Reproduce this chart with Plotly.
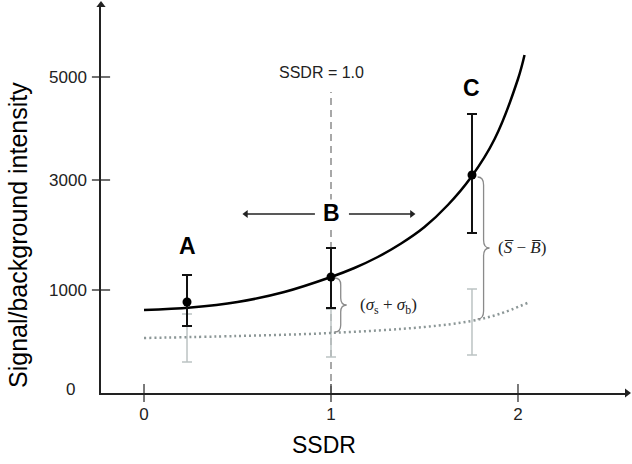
import plotly.graph_objects as go

# ---- data (x in SSDR units, y in the chart's drawn (schematic) intensity units) ----
x_tick_vals = [0, 1, 2]
x_tick_text = ["0", "1", "2"]
y_tick_vals = [103, 213, 316]
y_tick_text = ["1000", "3000", "5000"]
y_zero_label = "0"

signal_x = [0.0, 0.25, 0.5, 0.75, 1.0, 1.125, 1.25, 1.375, 1.5, 1.625, 1.75, 1.875, 2.0, 2.035]
signal_y = [83, 85.5, 91, 101, 116, 125, 136, 149.5, 166, 188, 216, 254, 314, 338]

background_x = [0.0, 0.5, 1.0, 1.5, 1.75, 1.9, 2.05]
background_y = [55, 57, 60, 66, 72, 79, 90]

point_labels = ["A", "B", "C"]
point_x = [0.23, 1.0, 1.754]
signal_mean = [91, 116, 218]
signal_err_up = [27, 29, 61]
signal_err_down = [24, 31, 58]
background_mean = [55, 60, 71]
background_err = [24, 24, 33]

threshold_x = 1.0
threshold_label = "SSDR = 1.0"

X_RANGE = [-0.230, 2.583]
Y_RANGE = [0, 388]

SANS = "Liberation Sans, Arial, sans-serif"
SERIF = "Liberation Serif, Times New Roman, serif"
AXIS_COLOR = "#222222"

fig = go.Figure()

# grey background error bars
fig.add_trace(go.Scatter(
    x=point_x, y=background_mean, mode="markers",
    marker=dict(size=2, color="rgba(0,0,0,0)"),
    error_y=dict(type="data", array=background_err, symmetric=True,
                 color="#bcc3c3", thickness=1.5, width=5),
    hoverinfo="skip", showlegend=False))

# background curve (dotted)
fig.add_trace(go.Scatter(
    x=background_x, y=background_y, mode="lines", line_shape="spline",
    line=dict(color="#8c9797", width=2.5, dash="2px,3px"),
    hoverinfo="skip", showlegend=False))

# signal curve
fig.add_trace(go.Scatter(
    x=signal_x, y=signal_y, mode="lines",
    line=dict(color="black", width=2.5, shape="spline", smoothing=1.0),
    hoverinfo="skip", showlegend=False))

# signal points with error bars
fig.add_trace(go.Scatter(
    x=point_x, y=signal_mean, mode="markers",
    marker=dict(size=9, color="black"),
    error_y=dict(type="data", array=signal_err_up, arrayminus=signal_err_down,
                 color="#111111", thickness=2, width=5),
    hoverinfo="skip", showlegend=False))

# crossing tick marks
fig.add_trace(go.Scatter(
    x=[X_RANGE[0]] * len(y_tick_vals), y=y_tick_vals, mode="markers",
    marker=dict(symbol="line-ew", size=13, line=dict(width=1.3, color=AXIS_COLOR)),
    cliponaxis=False, hoverinfo="skip", showlegend=False))
fig.add_trace(go.Scatter(
    x=x_tick_vals, y=[Y_RANGE[0]] * len(x_tick_vals), mode="markers",
    marker=dict(symbol="line-ns", size=13, line=dict(width=1.3, color="#333")),
    cliponaxis=False, hoverinfo="skip", showlegend=False))

# axis arrowheads
fig.add_trace(go.Scatter(
    x=[X_RANGE[0], X_RANGE[1]], y=[Y_RANGE[1], Y_RANGE[0]], mode="markers",
    marker=dict(symbol=["triangle-up", "triangle-right"], size=8, color=AXIS_COLOR),
    cliponaxis=False, hoverinfo="skip", showlegend=False))

# B range arrows (lines + heads)
arrow_y = 179
arrow_left = [0.914, 0.545]
arrow_right = [1.096, 1.433]
for xs, sym in ((arrow_left, "triangle-left"), (arrow_right, "triangle-right")):
    fig.add_trace(go.Scatter(x=xs, y=[arrow_y, arrow_y], mode="lines",
                             line=dict(color=AXIS_COLOR, width=1.3),
                             hoverinfo="skip", showlegend=False))
    fig.add_trace(go.Scatter(x=[xs[1]], y=[arrow_y], mode="markers",
                             marker=dict(symbol=sym, size=7, color=AXIS_COLOR),
                             hoverinfo="skip", showlegend=False))

shapes = []
# dashed threshold line
shapes.append(dict(type="line", xref="x", yref="y", x0=threshold_x, x1=threshold_x,
                   y0=0, y1=301, line=dict(color="#a8a8a8", width=2, dash="7px,5px"),
                   layer="below"))


def brace(x0, y_top, y_bot, w, r):
    xm = x0 + w / 2
    ym = (y_top + y_bot) / 2
    return (f"M {x0},{y_top} Q {xm},{y_top} {xm},{y_top - r} "
            f"L {xm},{ym + r} Q {xm},{ym} {x0 + w},{ym} "
            f"Q {xm},{ym} {xm},{ym - r} L {xm},{y_bot + r} "
            f"Q {xm},{y_bot} {x0},{y_bot}")


shapes.append(dict(type="path", xref="x", yref="y",
                   path=brace(point_x[1] + 0.02, signal_mean[1] - 1, background_mean[1] + 1, 0.064, 7),
                   line=dict(color="#8a8a8a", width=1.3)))
shapes.append(dict(type="path", xref="x", yref="y",
                   path=brace(point_x[2] + 0.03, signal_mean[2] - 2, background_mean[2] + 3, 0.064, 8),
                   line=dict(color="#8a8a8a", width=1.3)))

annotations = []
# point labels
label_y = [147, 180, 305]
for lab, px, ly in zip(point_labels, point_x, label_y):
    annotations.append(dict(x=px, y=ly, xref="x", yref="y", text=f"<b>{lab}</b>",
                            showarrow=False, font=dict(family=SANS, size=23, color="black"),
                            bgcolor="white" if lab == "B" else None, borderpad=0))

annotations.append(dict(x=0.95, y=321, xref="x", yref="y", text=threshold_label, showarrow=False,
                        font=dict(family=SANS, size=16, color="#222")))
annotations.append(dict(x=1.305, y=87, xref="x", yref="y",
                        text="(<i>σ</i><sub>s</sub> + <i>σ</i><sub>b</sub>)", showarrow=False,
                        font=dict(family=SERIF, size=17, color="#222")))
annotations.append(dict(x=2.02, y=146, xref="x", yref="y",
                        text="(<i>S\u0305</i> − <i>B\u0305</i>)", showarrow=False,
                        font=dict(family=SERIF, size=17, color="#222")))

# axis titles
annotations.append(dict(x=-0.158, y=0.407, xref="paper", yref="paper", text="Signal/background intensity",
                        textangle=-90, showarrow=False, xanchor="center", yanchor="middle",
                        font=dict(family=SANS, size=25, color="black")))
annotations.append(dict(x=0.963, y=-0.134, xref="x", yref="paper", text="SSDR",
                        showarrow=False, xanchor="center", yanchor="middle",
                        font=dict(family=SANS, size=23, color="black")))
annotations.append(dict(x=-0.046, y=0.008, xref="paper", yref="paper", text=y_zero_label,
                        showarrow=False, xanchor="right", yanchor="middle",
                        font=dict(family=SANS, size=17, color="#222")))

fig.update_layout(
    width=632, height=464,
    margin=dict(l=101, r=5, t=5, b=71),
    paper_bgcolor="white", plot_bgcolor="white",
    shapes=shapes, annotations=annotations,
    showlegend=False,
    xaxis=dict(range=X_RANGE, showgrid=False, zeroline=False, showline=True,
               linecolor=AXIS_COLOR, linewidth=1.5, ticks="", tickvals=x_tick_vals,
               ticktext=x_tick_text, ticklabelstandoff=5,
               tickfont=dict(family=SANS, size=17, color="#222")),
    yaxis=dict(range=Y_RANGE, showgrid=False, zeroline=False, showline=True,
               linecolor=AXIS_COLOR, linewidth=1.5, ticks="", tickvals=y_tick_vals,
               ticktext=y_tick_text, ticklabelstandoff=9,
               tickfont=dict(family=SANS, size=17, color="#222")),
)

fig.write_html("out.html", config={"displayModeBar": False},
               post_script="document.body.style.margin='0';")
